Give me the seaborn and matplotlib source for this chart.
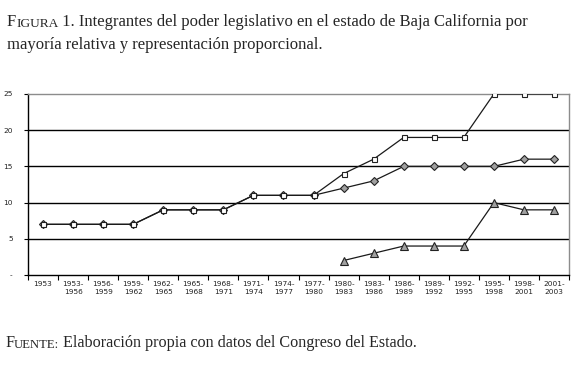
import numpy as np
import pandas as pd
import matplotlib
matplotlib.use("Agg")
import matplotlib.pyplot as plt
import seaborn as sns

periods = ["1953", "1953-\n1956", "1956-\n1959", "1959-\n1962", "1962-\n1965", "1965-\n1968",
           "1968-\n1971", "1971-\n1974", "1974-\n1977", "1977-\n1980", "1980-\n1983", "1983-\n1986",
           "1986-\n1989", "1989-\n1992", "1992-\n1995", "1995-\n1998", "1998-\n2001", "2001-\n2003"]
mayoria = [7, 7, 7, 7, 9, 9, 9, 11, 11, 11, 12, 13, 15, 15, 15, 15, 16, 16]
proporcional = [np.nan] * 10 + [2, 3, 4, 4, 4, 10, 9, 9]
total = [7, 7, 7, 7, 9, 9, 9, 11, 11, 11, 14, 16, 19, 19, 19, 25, 25, 25]
yticks = [0, 5, 10, 15, 20, 25]
yticklabels = ["-", "5", "10", "15", "20", "25"]

title1 = "Integrantes del poder legislativo en el estado de Baja California por"
title2 = "mayoría relativa y representación proporcional."
source = "Elaboración propia con datos del Congreso del Estado."

sns.set_theme(style="white")
plt.rcParams['font.family'] = ['DejaVu Sans']

df = pd.DataFrame({"pos": np.arange(len(periods)), "mayoria": mayoria,
                   "proporcional": proporcional, "total": total})

fig = plt.figure(figsize=(5.74, 3.73), dpi=100)
ax = fig.add_axes([28/574, 1 - 275/373, (569 - 28)/574, (275 - 94)/373])

for yv in [5, 10, 15, 20]:
    ax.axhline(yv, color="black", lw=1.0, zorder=1)

line_kw = dict(color="#1a1a1a", lw=0.9, zorder=3)
sns.lineplot(data=df, x="pos", y="mayoria", ax=ax, marker="D", markersize=4,
             markerfacecolor="#a0a0a0", markeredgecolor="#222222", markeredgewidth=0.8, **line_kw)
sns.lineplot(data=df.dropna(subset=["proporcional"]), x="pos", y="proporcional", ax=ax,
             marker="^", markersize=6, markerfacecolor="#a0a0a0", markeredgecolor="#222222",
             markeredgewidth=0.8, **line_kw)
sns.lineplot(data=df, x="pos", y="total", ax=ax, marker="s", markersize=3.6,
             markerfacecolor="white", markeredgecolor="#222222", markeredgewidth=0.8, **line_kw)

ax.set_xlim(-0.5, len(periods) - 0.5)
ax.set_ylim(0, 25)
ax.set_xlabel("")
ax.set_ylabel("")
ax.set_xticks(np.arange(len(periods)))
ax.set_xticklabels(periods, fontsize=5.3, color="#222222", linespacing=1.25)
ax.set_xticks(np.arange(len(periods) + 1) - 0.5, minor=True)
ax.tick_params(axis="x", which="major", length=0, pad=4.5)
ax.tick_params(axis="x", which="minor", length=3.5, width=0.8, color="black", direction="out", bottom=True)
ax.set_yticks(yticks)
ax.set_yticklabels(yticklabels, fontsize=5.3, color="#222222")
ax.tick_params(axis="y", length=3, width=0.8, color="black", direction="out", left=True, pad=8)

for s in ["left", "bottom"]:
    ax.spines[s].set_color("black")
    ax.spines[s].set_linewidth(1.0)
for s in ["top", "right"]:
    ax.spines[s].set_color("#8c8c8c")
    ax.spines[s].set_linewidth(1.0)
    ax.spines[s].set_visible(True)

serif = ["Liberation Serif", "DejaVu Serif"]
tfs = 12
t = fig.text(7/574, 1 - 26/373, "F", fontsize=tfs, family=serif, va="baseline", ha="left")
t2 = ax.annotate("IGURA", xy=(1, 0), xycoords=t, fontsize=tfs * 0.8, family=serif, va="bottom", ha="left",
                 annotation_clip=False)
ax.annotate(" 1. " + title1, xy=(1, 0), xycoords=t2, fontsize=tfs, family=serif, va="bottom", ha="left",
            annotation_clip=False)
fig.text(7/574, 1 - 49/373, title2, fontsize=tfs, family=serif, va="baseline", ha="left")

sfs = 11.6
s1 = fig.text(5/574, 1 - 347/373, "F", fontsize=sfs, family=serif, va="baseline", ha="left")
s2 = ax.annotate("UENTE:", xy=(1, 0), xycoords=s1, fontsize=sfs * 0.78, family=serif, va="bottom", ha="left",
                 annotation_clip=False)
ax.annotate(" " + source, xy=(1, 0), xycoords=s2, fontsize=sfs, family=serif, va="bottom", ha="left",
            annotation_clip=False)

fig.savefig("out.png", dpi=100, facecolor="white")
